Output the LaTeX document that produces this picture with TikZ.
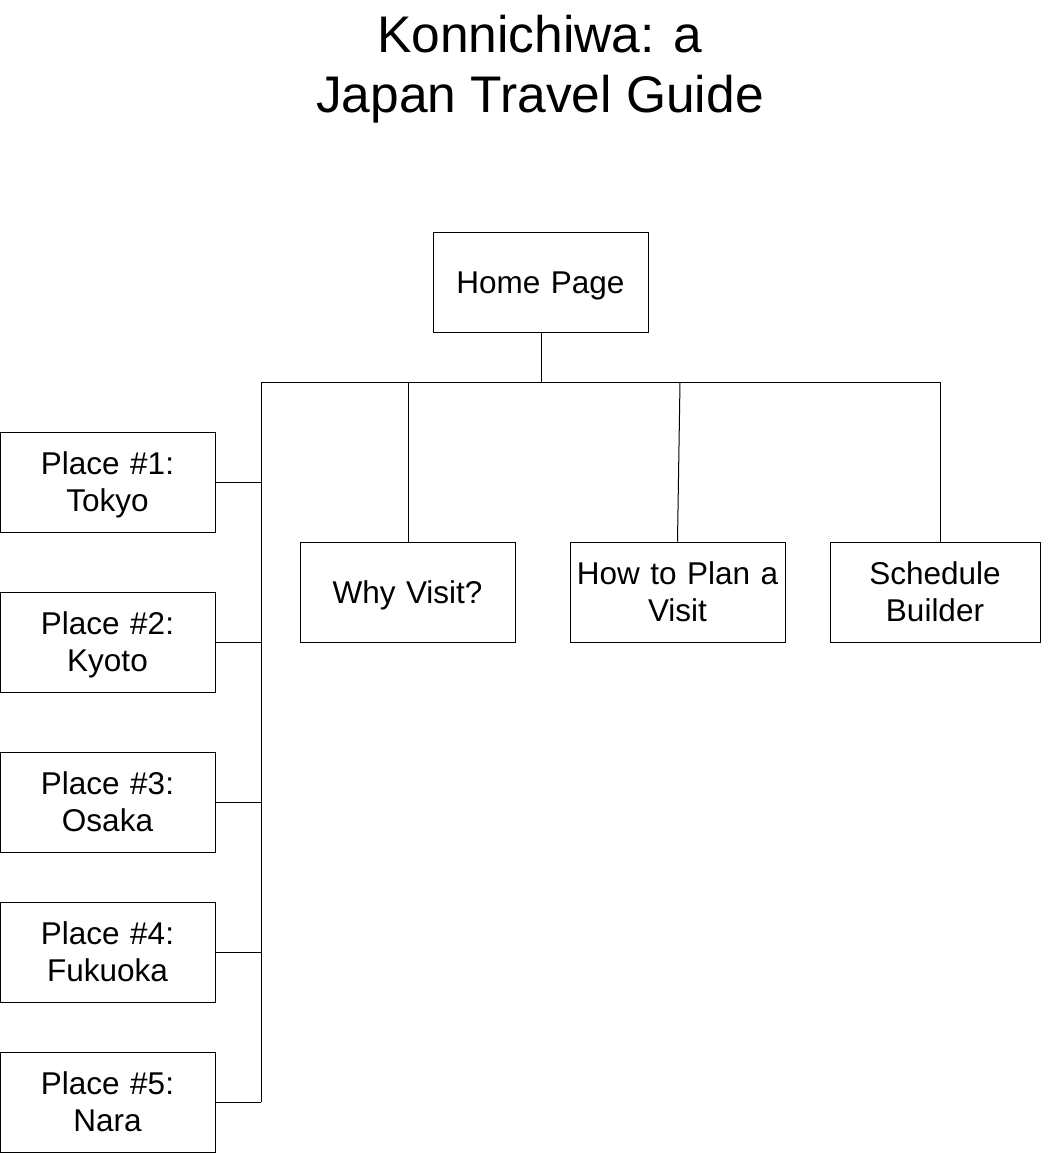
\documentclass[tikz,border=0pt]{standalone}
\usepackage{fontspec}
\setmainfont{Liberation Sans}
\usetikzlibrary{calc}

\begin{document}
\begin{tikzpicture}[x=1pt,y=-1pt,line width=1pt,
		page/.style={draw,rectangle,minimum width=215pt,minimum height=100pt,
			inner sep=2pt,align=center,text width=205pt,
			font=\fontsize{31.5}{37}\selectfont,
			execute at begin node={\rule{0pt}{32pt}},
			execute at end node={\rule[-10pt]{0pt}{10pt}}}]
		\useasboundingbox (0,0) rectangle (1041,1153);
		% title
		\node[align=center,font=\fontsize{51.5}{60}\selectfont] (title) at (540,69)
		{Konnichiwa: a\\Japan Travel Guide};
		% top level
		\node[page] (home) at (540.5,282) {Home Page};
		\node[page] (why) at (407.5,592) {Why Visit?};
		\node[page] (plan) at (677.5,592) {How to Plan a\\Visit};
		\node[page,minimum width=210pt,text width=200pt] (sched) at (935,592) {Schedule\\Builder};
		% places
		\node[page] (p1) at (107.5,482) {Place \#1:\\Tokyo};
		\node[page] (p2) at (107.5,642) {Place \#2:\\Kyoto};
		\node[page] (p3) at (107.5,802) {Place \#3:\\Osaka};
		\node[page] (p4) at (107.5,952) {Place \#4:\\Fukuoka};
		\node[page] (p5) at (107.5,1102) {Place \#5:\\Nara};
		% connectors
		\coordinate (hub) at (541,382);
		\coordinate (trunk) at (261,382);
		\draw (home.south -| hub) -- (hub);
		\draw (trunk) -- ([xshift=5pt]sched.north |- hub);
		\draw (trunk) -- (trunk |- p5.east);
		\draw ([xshift=0.5pt]why.north) -- ([xshift=0.5pt]why.north |- hub);
		\draw (plan.north) -- ([xshift=2.5pt]plan.north |- hub);
		\draw ([xshift=5pt]sched.north) -- ([xshift=5pt]sched.north |- hub);
		\foreach \p in {p1,p2,p3,p4,p5}
		\draw (\p.east) -- (\p.east -| trunk);
\end{tikzpicture}
\end{document}
